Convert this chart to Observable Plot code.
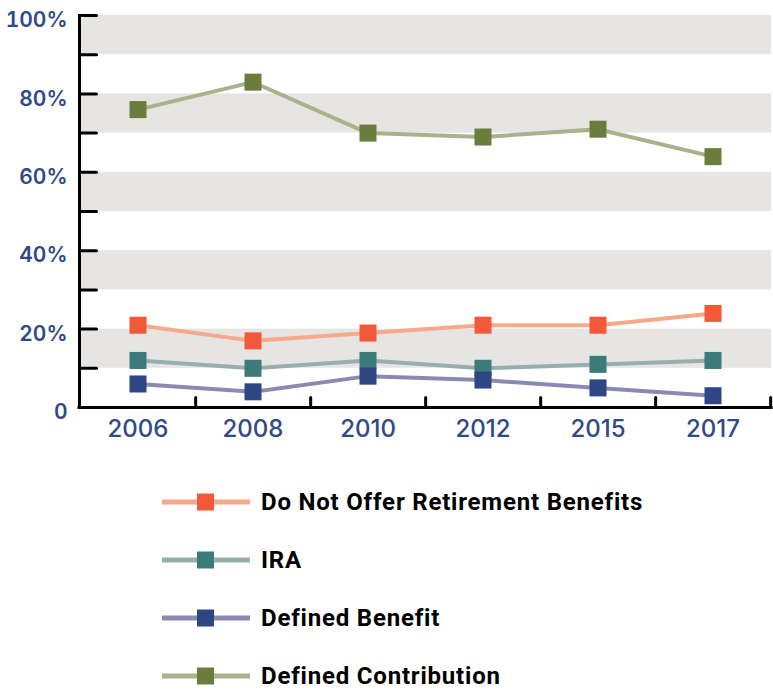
<!DOCTYPE html>
<html><head><meta charset="utf-8">
<script src="https://cdn.jsdelivr.net/npm/d3@7"></script>
<script src="https://cdn.jsdelivr.net/npm/@observablehq/plot@0.6"></script>
<style>
body{margin:0;background:#fff;}
#chart svg{display:block;}
#legend{margin-left:162px;margin-top:23px;}
.row{display:flex;align-items:center;height:58px;}
.row svg{display:block;margin-right:11px;}
.row span{font-family:"Roboto",sans-serif;font-weight:700;font-size:24px;line-height:1;color:#000;letter-spacing:0.8px;}
</style></head><body>
<div id="chart"></div><div id="legend"></div>
<script>
const years = ["2006", "2008", "2010", "2012", "2015", "2017"];
const doNotOffer = [21, 17, 19, 21, 21, 24];
const ira = [12, 10, 12, 10, 11, 12];
const definedBenefit = [6, 4, 8, 7, 5, 3];
const definedContribution = [76, 83, 70, 69, 71, 64];
const seriesNames = ["Do Not Offer Retirement Benefits", "IRA", "Defined Benefit", "Defined Contribution"];
const seriesValues = [doNotOffer, ira, definedBenefit, definedContribution];
const lineColors = ["#f7a98b", "#97aeae", "#8a89b1", "#abb28b"];
const markerColors = ["#f2593a", "#3d7a7a", "#2e4684", "#6b7d3d"];
const yTicks = [0, 10, 20, 30, 40, 50, 60, 70, 80, 90, 100];
const yLabels = [0, 20, 40, 60, 80, 100];
const bandLow = [10, 30, 50, 70, 90];
const bandHigh = [20, 40, 60, 80, 100];

const bands = bandLow.map((lo, i) => ({lo, hi: bandHigh[i]}));
const tickShape = {draw(context, l) { context.moveTo(0, 0); context.lineTo(0, -l); }};
const W = 773, ML = 79, MR = 2;
const bandwidth = (W - ML - MR) / years.length;
const axisColor = "#2f4a87";

const marks = [
  Plot.rect(bands, {y1: "lo", y2: "hi", fill: "#e6e5e4"})
];
seriesValues.forEach((vals, i) => {
  const rows = years.map((year, j) => ({year, value: vals[j]}));
  marks.push(Plot.line(rows, {x: "year", y: "value", stroke: lineColors[i], strokeWidth: 4}));
});
seriesValues.forEach((vals, i) => {
  const rows = years.map((year, j) => ({year, value: vals[j]}));
  marks.push(Plot.dot(rows, {x: "year", y: "value", symbol: "square", r: 9.6, fill: markerColors[i], stroke: null}));
});
marks.push(
  Plot.vector(yTicks, {y: d => d, frameAnchor: "left", rotate: 90, length: 17, anchor: "start", shape: tickShape, stroke: "black", strokeWidth: 3}),
  Plot.vector(years, {x: d => d, frameAnchor: "bottom", rotate: 0, length: 10, anchor: "start", shape: tickShape, stroke: "black", strokeWidth: 3, dx: bandwidth / 2}),
  Plot.frame({anchor: "left", stroke: "black", strokeWidth: 3}),
  Plot.ruleY([0], {stroke: "black", strokeWidth: 3, strokeLinecap: "square"}),
  Plot.axisY(yLabels, {tickSize: 0, tickPadding: 12, dy: 5, tickFormat: d => d === 0 ? "0" : d + "%", fontSize: 21, fontWeight: 600, fill: axisColor, label: null}),
  Plot.axisX({tickSize: 0, tickPadding: 12, fontSize: 24, fontWeight: 500, fill: axisColor, label: null})
);

const chart = Plot.plot({
  width: W, height: 450,
  marginLeft: ML, marginRight: MR, marginTop: 15, marginBottom: 43,
  x: {type: "band", domain: years, padding: 0},
  y: {domain: [0, 100]},
  style: {fontFamily: "Inter", background: "white", overflow: "visible"},
  marks
});
document.getElementById("chart").append(chart);

const legend = document.getElementById("legend");
seriesNames.forEach((name, i) => {
  const row = document.createElement("div");
  row.className = "row";
  row.innerHTML = `<svg width="88" height="20"><line x1="0" x2="88" y1="10" y2="10" stroke="${lineColors[i]}" stroke-width="5"/><rect x="35" y="1.5" width="17" height="17" fill="${markerColors[i]}"/></svg><span>${name}</span>`;
  legend.append(row);
});
</script>
</body></html>
